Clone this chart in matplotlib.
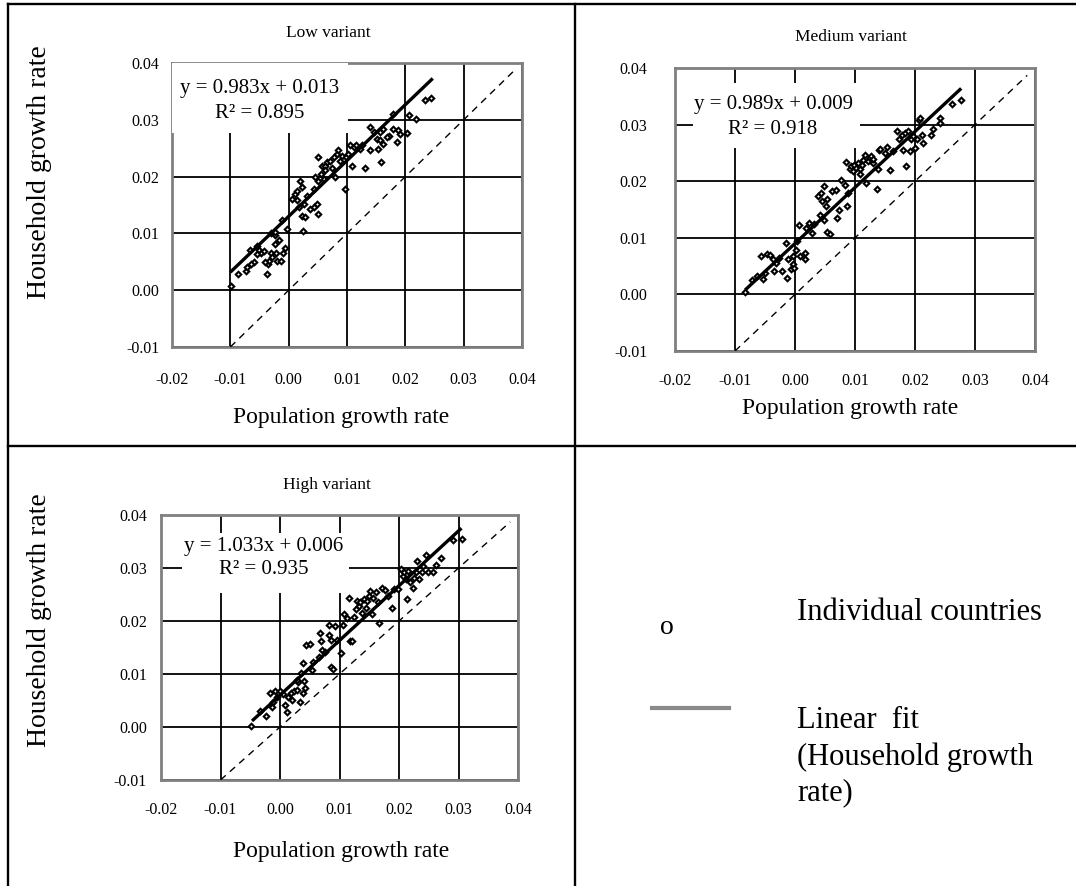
import matplotlib
matplotlib.use("Agg")
import matplotlib.pyplot as plt
from matplotlib.lines import Line2D
from matplotlib.patches import Rectangle
import numpy as np

plt.rcParams['font.family'] = ['Liberation Serif', 'DejaVu Serif']

W, H = 1076, 886

# ---- data ----
low_x = [-0.0099, -0.0087, -0.0074, -0.0071, -0.0066, -0.006, -0.0055, -0.0051, -0.0047, -0.0043,
         -0.0037, -0.0036, -0.0034, -0.003, -0.0023, -0.0021, -0.002, -0.0024, -0.0013, -0.001,
         -0.0006, -0.0011, -0.0031, -0.0024, -0.0028, -0.0003, -0.0017, -0.004, -0.0065, -0.0054,
         0.0006, 0.001, 0.0014, 0.002, 0.0023, 0.0026, 0.0023, 0.0024, 0.0028, 0.0036,
         0.0043, 0.0048, 0.0051, 0.0043, 0.0045, 0.0051, 0.0051, 0.0055, 0.0057, 0.006,
         0.0063, 0.0065, 0.007, 0.0074, 0.0078, 0.008, 0.0082, 0.0085, 0.0088, 0.0091,
         0.0097, 0.0098, 0.0014, 0.0031, 0.0017, 0.0063,
         0.0102, 0.0108, 0.0112, 0.0115, 0.0122, 0.0131, 0.0139, 0.014, 0.0146, 0.0151,
         0.0153, 0.0156, 0.0159, 0.0156, 0.0162, 0.0172, 0.0179, 0.0179, 0.0185, 0.0188,
         0.019, 0.0202, 0.0206, 0.0218, 0.0233, 0.0244, 0.0105, 0.0125, 0.0162, 0.0168]
low_y = [0.0008, 0.0029, 0.0034, 0.004, 0.0071, 0.0049, 0.0078, 0.0071, 0.0065, 0.0069,
         0.0029, 0.0046, 0.0051, 0.0066, 0.0097, 0.0066, 0.0051, 0.0081, 0.0051, 0.0066,
         0.0075, 0.0124, 0.01, 0.0102, 0.0058, 0.0108, 0.0088, 0.0049, 0.0046, 0.0064,
         0.0161, 0.0169, 0.0175, 0.0193, 0.0181, 0.0152, 0.0131, 0.0105, 0.0128, 0.0143,
         0.0146, 0.0152, 0.0135, 0.0178, 0.0199, 0.0234, 0.0193, 0.0205, 0.0219, 0.0196,
         0.0219, 0.0225, 0.0228, 0.0216, 0.0234, 0.0199, 0.024, 0.0246, 0.0228, 0.0237,
         0.0178, 0.0234, 0.0158, 0.0166, 0.0146, 0.0211,
         0.024, 0.0219, 0.0252, 0.0255, 0.0249, 0.0216, 0.0246, 0.0287, 0.0278, 0.0266,
         0.0249, 0.0278, 0.0225, 0.0264, 0.0284, 0.0272, 0.0311, 0.0284, 0.0261, 0.0282,
         0.0275, 0.0276, 0.0309, 0.0302, 0.0335, 0.0338, 0.0255, 0.0255, 0.0258, 0.0269]

med_x = [-0.0083, -0.0071, -0.0063, -0.0057, -0.0054, -0.005, -0.0046, -0.0042, -0.0037, -0.0035,
         -0.0032, -0.0026, -0.0021, -0.0015, -0.0014, -0.0011, -0.0007, -0.0004, -0.0003, -0.0001,
         0.0002, 0.0004, 0.0007, 0.0008, 0.0017, 0.0017, 0.0018, 0.0024, 0.0028, 0.0032,
         0.0038, 0.0041, 0.0044, 0.0045, 0.0049, 0.0049, 0.0051, 0.0053, 0.0053, 0.0058,
         0.0062, 0.0069, 0.007, 0.0073, 0.0077, 0.0083, 0.0085, 0.0087, 0.0088, 0.0091,
         0.0094, 0.0097, 0.0099, 0.0102, 0.0105, 0.0108, 0.0111, 0.0113, 0.0116, 0.0119,
         0.0122, 0.0125, 0.0127, 0.013, 0.0137, 0.0139, 0.014, 0.0142, 0.015, 0.0154,
         0.0159, 0.0163, 0.017, 0.0174, 0.0178, 0.018, 0.0183, 0.0185, 0.0189, 0.0192,
         0.0194, 0.0197, 0.02, 0.0203, 0.0206, 0.0208, 0.0211, 0.0213, 0.0226, 0.023,
         0.0241, 0.0241, 0.0261, 0.0277, 0.0108, 0.013]
med_y = [0.0004, 0.0026, 0.0032, 0.0068, 0.0028, 0.0037, 0.0072, 0.0069, 0.0063, 0.0041,
         0.0056, 0.0065, 0.0041, 0.0091, 0.0029, 0.0062, 0.0044, 0.0068, 0.0053, 0.0047,
         0.0079, 0.0094, 0.0122, 0.0068, 0.0074, 0.0063, 0.0118, 0.0126, 0.0108, 0.0124,
         0.0174, 0.0141, 0.0179, 0.0165, 0.0191, 0.0132, 0.0156, 0.0168, 0.011, 0.0106,
         0.0182, 0.0185, 0.0135, 0.015, 0.0203, 0.0194, 0.0234, 0.0156, 0.0179, 0.0221,
         0.0226, 0.0218, 0.0229, 0.0224, 0.0232, 0.0221, 0.0229, 0.0238, 0.0247, 0.0197,
         0.0235, 0.0241, 0.0244, 0.0232, 0.0186, 0.0221, 0.0256, 0.0257, 0.0249, 0.0261,
         0.022, 0.0253, 0.0289, 0.0274, 0.0281, 0.0256, 0.0285, 0.0226, 0.0288, 0.0253,
         0.0275, 0.0279, 0.0259, 0.0274, 0.0308, 0.0312, 0.0281, 0.0268, 0.0282, 0.0292,
         0.0312, 0.0303, 0.0337, 0.0344, 0.0212, 0.0239]

high_x = [-0.0048, -0.0034, -0.0024, -0.0016, -0.0014, -0.0011, -0.0008, -0.0005, 0.0, 0.0005,
          0.0008, 0.0011, 0.0014, 0.0018, 0.002, 0.0024, 0.0028, 0.0031, 0.0034, 0.0038,
          0.0041, 0.0042, 0.0028, 0.0035, 0.0038, 0.0044, 0.0051, 0.0054, 0.0056, 0.0065,
          0.0067, 0.0069, 0.0071, 0.0076, 0.0082, 0.0082, 0.0085, 0.0086, 0.0089, 0.0093,
          0.0096, 0.0103, 0.0106, 0.0107, 0.0112, 0.0116, 0.0117, 0.0121, 0.0124, 0.0127,
          0.013, 0.0133, 0.0135, 0.0138, 0.0141, 0.0144, 0.0147, 0.0149, 0.0152, 0.0155,
          0.0157, 0.0161, 0.0164, 0.0166, 0.0172, 0.0176, 0.0182, 0.0189, 0.0192, 0.0199,
          0.0203, 0.0206, 0.0209, 0.0212, 0.0213, 0.0215, 0.0219, 0.0223, 0.0226, 0.0228,
          0.0231, 0.0234, 0.0238, 0.024, 0.0245, 0.0249, 0.0257, 0.0262, 0.027, 0.029, 0.0306]
high_y = [0.0001, 0.003, 0.002, 0.0065, 0.0038, 0.0048, 0.0067, 0.0057, 0.0067, 0.0062,
          0.0041, 0.0029, 0.0056, 0.0065, 0.0051, 0.0067, 0.007, 0.0084, 0.0048, 0.0065,
          0.0086, 0.0073, 0.0089, 0.0101, 0.012, 0.0155, 0.0157, 0.0108, 0.0122, 0.0133,
          0.0178, 0.0162, 0.0145, 0.0141, 0.0193, 0.0174, 0.0165, 0.0114, 0.0109, 0.019,
          0.0165, 0.014, 0.0193, 0.0214, 0.0206, 0.0244, 0.0162, 0.0162, 0.0208, 0.0222,
          0.0238, 0.0228, 0.0235, 0.0216, 0.0241, 0.0225, 0.0238, 0.0247, 0.0257, 0.0214,
          0.0244, 0.0254, 0.0235, 0.0197, 0.0263, 0.0259, 0.0247, 0.0225, 0.026, 0.026,
          0.0299, 0.0285, 0.0292, 0.0279, 0.0241, 0.0295, 0.0273, 0.0263, 0.0282, 0.0292,
          0.0314, 0.028, 0.0292, 0.0303, 0.0325, 0.0292, 0.0292, 0.0306, 0.0318, 0.0352, 0.0355]

titles = ["Low variant", "Medium variant", "High variant"]
slopes = [0.983, 0.989, 1.033]
intercepts = [0.013, 0.009, 0.006]
r2 = [0.895, 0.918, 0.935]
fit_start = [-0.010, -0.0083, -0.0047]
fit_end = [0.0247, 0.0277, 0.0305]
diag_range = [-0.01, 0.0387]
x_ticks = [-0.02, -0.01, 0.00, 0.01, 0.02, 0.03, 0.04]
y_ticks = [-0.01, 0.00, 0.01, 0.02, 0.03, 0.04]


def fx(x):
    return x / W


def fy(y):
    return 1 - y / H


fig = plt.figure(figsize=(W / 100, H / 100), dpi=100)

# table borders
for (x0, y0, x1, y1) in [(8, 4, W, 4), (8, 4, 8, H), (575, 4, 575, H), (8, 446, W, 446)]:
    fig.add_artist(Line2D([fx(x0), fx(x1)], [fy(y0), fy(y1)], color='black', lw=1.7,
                          transform=fig.transFigure))

# panel geometry in pixels: left, top, right, bottom
boxes = [(172, 63, 522, 347), (675, 68, 1035, 351), (161, 515, 518, 780)]
xpads = [18, 16, 16]
ypads = [9, 20, 10]
eq_boxes = [(172, 63, 348, 133), (693, 83, 860, 148), (182, 533, 349, 593)]
eq_text = [(260, 88, 113), (773, 105, 129), (264, 547, 570)]
title_pos = [(328, 33), (851, 37), (327, 485)]
xlabel_pos = [(341, 418), (850, 408), (341, 852)]

data = [(low_x, low_y), (med_x, med_y), (high_x, high_y)]

for i, (l, t, r, b) in enumerate(boxes):
    ax = fig.add_axes([fx(l), fy(b), (r - l) / W, (b - t) / H])
    ax.set_xlim(-0.02, 0.04)
    ax.set_ylim(-0.01, 0.04)
    ax.set_xticks(x_ticks)
    ax.set_yticks(y_ticks)
    ax.set_xticklabels([f"{v:.2f}" for v in x_ticks])
    ax.set_yticklabels([f"{v:.2f}" for v in y_ticks])
    ax.tick_params(length=0, labelsize=11.5)
    ax.tick_params(axis='x', pad=xpads[i])
    ax.tick_params(axis='y', pad=ypads[i])
    ax.grid(True, color='black', lw=1.3)
    ax.set_axisbelow(True)
    for s in ax.spines.values():
        s.set_color('#808080')
        s.set_linewidth(2)

    # white label box over the grid
    el, et, er, eb = eq_boxes[i]
    fig.add_artist(Rectangle((fx(el), fy(eb)), (er - el) / W, (eb - et) / H,
                             transform=fig.transFigure, facecolor='white',
                             edgecolor='none', zorder=2.5))

    xs, ys = data[i]
    ax.plot(diag_range, diag_range, color='black', lw=1.0, dashes=(5, 4), zorder=3)
    ax.plot(xs, ys, ls='none', marker='D', ms=2.8, mfc='white', mec='black', mew=1.5, zorder=4)
    fxs = np.array([fit_start[i], fit_end[i]])
    ax.plot(fxs, slopes[i] * fxs + intercepts[i], color='black', lw=2.4,
            solid_capstyle='butt', zorder=5)

    tx, ty1, ty2 = eq_text[i]
    fig.text(fx(tx), fy(ty1), f"y = {slopes[i]:.3f}x + {intercepts[i]:.3f}",
             ha='center', va='center', fontsize=15, zorder=6)
    fig.text(fx(tx), fy(ty2), f"R² = {r2[i]:.3f}", ha='center', va='center',
             fontsize=15, zorder=6)

    fig.text(fx(title_pos[i][0]), fy(title_pos[i][1]), titles[i], ha='center',
             va='center', fontsize=12.5)
    fig.text(fx(xlabel_pos[i][0]), fy(xlabel_pos[i][1]), "Population growth rate",
             ha='center', va='center', fontsize=17)

# y labels (left column only)
for yc in [172, 620]:
    fig.text(fx(40), fy(yc), "Household growth rate", rotation=90, ha='center',
             va='center', fontsize=20)

# legend cell
fig.text(fx(667), fy(628), "o", ha='center', va='center', fontsize=20)
fig.add_artist(Line2D([fx(652), fx(729)], [fy(708), fy(708)], color='#8a8a8a', lw=3,
                      transform=fig.transFigure))
legend_lines = [("Individual countries", 612), ("Linear  fit", 720),
                ("(Household growth", 757), ("rate)", 793)]
for txt, yy in legend_lines:
    fig.text(fx(797), fy(yy), txt, ha='left', va='center', fontsize=22)

fig.savefig("out.png", dpi=100)
